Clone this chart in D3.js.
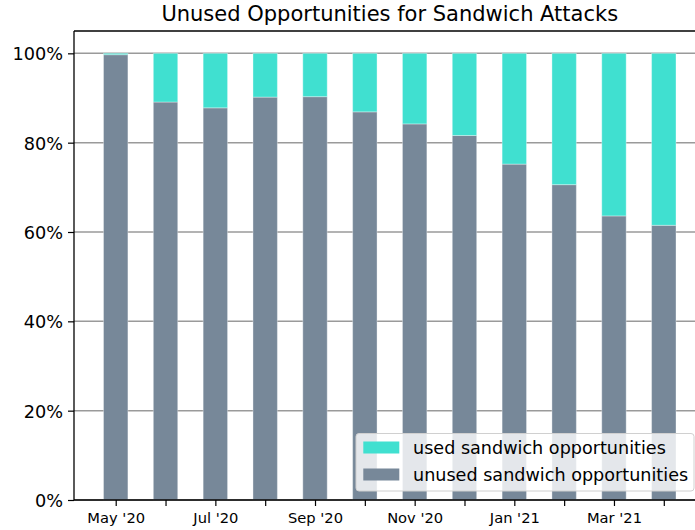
<!DOCTYPE html>
<html>
<head>
<meta charset="utf-8">
<script src="https://cdn.jsdelivr.net/npm/d3@7"></script>
<style>
  html, body { margin: 0; padding: 0; background: #fff; }
  svg { display: block; font-family: "DejaVu Sans", sans-serif; }
</style>
</head>
<body>
<div id="chart"></div>
<script>
// ---- data ----
const months = ["May '20", "Jun '20", "Jul '20", "Aug '20", "Sep '20", "Oct '20",
                "Nov '20", "Dec '20", "Jan '21", "Feb '21", "Mar '21", "Apr '21"];
const unused = [0.997, 0.891, 0.878, 0.902, 0.903, 0.869, 0.842, 0.816, 0.752, 0.706, 0.636, 0.615];
const used   = [0.003, 0.109, 0.122, 0.098, 0.097, 0.131, 0.158, 0.184, 0.248, 0.294, 0.364, 0.385];
const yTicks = [0, 0.2, 0.4, 0.6, 0.8, 1.0];
const xTickLabels = ["May '20", "", "Jul '20", "", "Sep '20", "", "Nov '20", "", "Jan '21", "", "Mar '21", ""];
const seriesNames = ["used sandwich opportunities", "unused sandwich opportunities"];
const colors = { used: "#40E0D0", unused: "#778899" };

// ---- layout ----
const W = 695, H = 530;
const mLeft = 74, mTop = 31, mBottom = 500, mRight = 705.5;

const svg = d3.select("#chart").append("svg")
  .attr("width", W).attr("height", H);

const x = d3.scaleLinear().domain([-0.837, months.length - 1 + 0.837]).range([mLeft, mRight]);
const y = d3.scaleLinear().domain([0, 1.05]).range([mBottom, mTop]);
const barW = x(0.49) - x(0);

// grid
svg.append("g").selectAll("line").data(yTicks).join("line")
  .attr("x1", mLeft).attr("x2", mRight)
  .attr("y1", d => y(d)).attr("y2", d => y(d))
  .attr("stroke", "#9a9a9a").attr("stroke-width", 1.5);

// bars
const idx = d3.range(months.length);
svg.append("g").selectAll("rect").data(idx).join("rect")
  .attr("x", i => x(i) - barW / 2).attr("width", barW)
  .attr("y", i => y(unused[i])).attr("height", i => y(0) - y(unused[i]))
  .attr("fill", colors.unused)
  .attr("stroke", "rgba(255,255,255,0.35)").attr("stroke-width", 1);
svg.append("g").selectAll("rect").data(idx).join("rect")
  .attr("x", i => x(i) - barW / 2).attr("width", barW)
  .attr("y", i => y(unused[i] + used[i])).attr("height", i => y(unused[i]) - y(unused[i] + used[i]))
  .attr("fill", colors.used)
  .attr("stroke", "rgba(255,255,255,0.35)").attr("stroke-width", 1);

// axes
const yAxis = d3.axisLeft(y).tickValues(yTicks).tickFormat(d3.format(".0%")).tickSize(6).tickPadding(5);
const gy = svg.append("g").attr("transform", `translate(${mLeft},0)`).call(yAxis);
gy.select(".domain").remove();
gy.selectAll(".tick line").attr("stroke", "#000").attr("stroke-width", 1.2);
gy.selectAll(".tick text").attr("font-size", 17.7).attr("fill", "#000")
  .attr("font-family", "DejaVu Sans").attr("dy", "0.36em");

const xAxis = d3.axisBottom(x).tickValues(idx).tickFormat(i => xTickLabels[i]).tickSize(6).tickPadding(6);
const gx = svg.append("g").attr("transform", `translate(0,${mBottom})`).call(xAxis);
gx.select(".domain").remove();
gx.selectAll(".tick line").attr("stroke", "#000").attr("stroke-width", 1.2);
gx.selectAll(".tick text").attr("font-size", 14.7).attr("fill", "#000")
  .attr("font-family", "DejaVu Sans").attr("dy", "0.75em");

// spines
const sp = svg.append("g").attr("stroke", "#000").attr("stroke-width", 1.3).attr("fill", "none");
sp.append("line").attr("x1", mLeft).attr("x2", mLeft).attr("y1", mTop).attr("y2", mBottom);
sp.append("line").attr("x1", mLeft).attr("x2", mRight).attr("y1", mBottom).attr("y2", mBottom);
sp.append("line").attr("x1", mLeft).attr("x2", mRight).attr("y1", mTop).attr("y2", mTop);
sp.append("line").attr("x1", mRight).attr("x2", mRight).attr("y1", mTop).attr("y2", mBottom);

// title
svg.append("text").attr("x", (mLeft + mRight) / 2).attr("y", 21)
  .attr("text-anchor", "middle").attr("font-size", 21).attr("fill", "#000")
  .text("Unused Opportunities for Sandwich Attacks");

// legend
const lg = svg.append("g");
lg.append("rect").attr("x", 356).attr("y", 433.5).attr("width", 338).attr("height", 57.5)
  .attr("rx", 3).attr("fill", "rgba(255,255,255,0.8)").attr("stroke", "#d0d0d0").attr("stroke-width", 1);
const legendItems = [{ name: seriesNames[0], color: colors.used }, { name: seriesNames[1], color: colors.unused }];
legendItems.forEach((d, i) => {
  const cy = 447.5 + i * 27;
  lg.append("rect").attr("x", 363.3).attr("y", cy - 6).attr("width", 36).attr("height", 12).attr("fill", d.color);
  lg.append("text").attr("x", 413).attr("y", cy).attr("dy", "0.36em")
    .attr("font-size", 17.6).attr("fill", "#000").text(d.name);
});
</script>
</body>
</html>
